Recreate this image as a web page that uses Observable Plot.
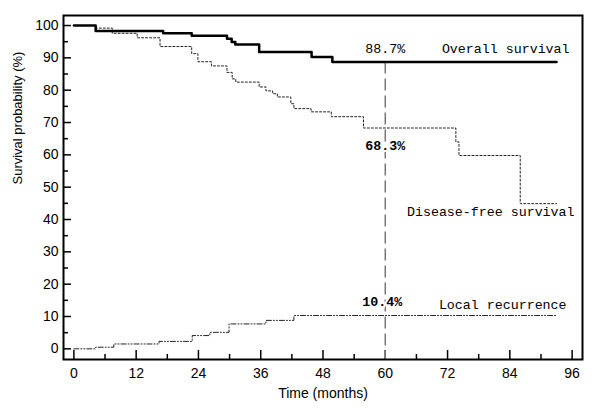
<!DOCTYPE html>
<html><head><meta charset="utf-8">
<script src="https://cdn.jsdelivr.net/npm/d3@7"></script>
<script src="https://cdn.jsdelivr.net/npm/@observablehq/plot@0.6"></script>
<style>body{margin:0;background:#fff}svg{display:block}</style>
</head><body><div id="chart"></div>
<script>
// Overall survival (step function)
const osTime = [0, 4.2, 17.2, 22.7, 29.5, 30.4, 31.1, 35.7, 45.8, 49.8, 93];
const osValue = [100, 98.3, 97.6, 96.8, 95.9, 94.9, 94.1, 91.8, 90.3, 88.7, 88.7];
// Disease-free survival
const dfsTime = [0, 4.2, 7.4, 12.2, 16.6, 22.7, 23.9, 26.5, 29.5, 30.5, 31.2, 35.7, 37.0, 38.3, 39.2, 41.8, 42.4, 45.7, 49.6, 55.8, 73.6, 74.2, 86.0, 93];
const dfsValue = [100, 99.2, 97.6, 96.2, 93.5, 91.3, 88.8, 87.5, 85.5, 83.5, 82.5, 81.0, 79.8, 78.9, 77.9, 75.8, 74.3, 73.3, 71.8, 68.3, 64.0, 59.8, 44.9, 44.9];
// Local recurrence
const lrTime = [0, 4.2, 7.7, 16.4, 22.8, 26.2, 29.9, 37.0, 42.4, 93];
const lrValue = [0, 0.5, 1.5, 2.3, 4.1, 5.1, 7.7, 8.8, 10.3, 10.3];

const seriesNames = ["Overall survival", "Disease-free survival", "Local recurrence"];
const markerMonth = 60;
const markerValues = [88.7, 68.3, 10.4];
const markerLabels = ["88.7%", "68.3%", "10.4%"];

const xTicks = [0, 12, 24, 36, 48, 60, 72, 84, 96];
const xMinor = [6, 18, 30, 42, 54, 66, 78, 90];
const yTicks = [0, 10, 20, 30, 40, 50, 60, 70, 80, 90, 100];
const yMinor = [5, 15, 25, 35, 45, 55, 65, 75, 85, 95];

const W = 611, H = 410;
const mL = 63, mR = 29, mT = 15, mB = 51;
const plotW = W - mL - mR, plotH = H - mT - mB;
const xDomain = [-2, 98], yDomain = [-3.3, 103.1];

const toRows = (ts, vs) => ts.map((t, i) => ({t, v: vs[i]}));
const os = toRows(osTime, osValue);
const dfs = toRows(dfsTime, dfsValue);
const lr = toRows(lrTime, lrValue);

const sans = "Liberation Sans, Arial, sans-serif";
const mono = "Liberation Mono, Courier New, monospace";

const lastT = osTime[osTime.length - 1];

const chart = Plot.plot({
  width: W, height: H,
  marginLeft: mL, marginRight: mR, marginTop: mT, marginBottom: mB,
  style: {background: "#fff", color: "#000"},
  x: {domain: xDomain},
  y: {domain: yDomain},
  marks: [
    Plot.axisX(xTicks, {tickSize: 0, tickPadding: 9, fontSize: 14, fontFamily: sans, label: null}),
    Plot.axisY(yTicks, {tickSize: 0, tickPadding: 5, fontSize: 14, fontFamily: sans, label: null}),
    Plot.tickX(xTicks, {x: d => d, insetTop: plotH - 9, stroke: "#000", strokeWidth: 1.5}),
    Plot.tickX(xMinor, {x: d => d, insetTop: plotH - 5, stroke: "#000", strokeWidth: 1.5}),
    Plot.tickY(yTicks, {y: d => d, insetRight: plotW - 8, stroke: "#000", strokeWidth: 1.5}),
    Plot.tickY(yMinor, {y: d => d, insetRight: plotW - 5, stroke: "#000", strokeWidth: 1.5}),
    Plot.ruleX([markerMonth], {y1: markerValues[0], y2: yDomain[0], stroke: "#777", strokeWidth: 1.5, strokeDasharray: "12,5"}),
    Plot.line(lr, {x: "t", y: "v", curve: "step-after", stroke: "#222", strokeWidth: 1, strokeDasharray: "5,2,1,2,1,2"}),
    Plot.line(dfs, {x: "t", y: "v", curve: "step-after", stroke: "#222", strokeWidth: 1, strokeDasharray: "2,2"}),
    Plot.line(os, {x: "t", y: "v", curve: "step-after", stroke: "#000", strokeWidth: 2.5}),
    Plot.frame({stroke: "#000", strokeWidth: 2}),
    // marker labels
    Plot.text([0], {x: markerMonth, y: markerValues[0], text: () => markerLabels[0], lineAnchor: "bottom", dy: -9, fontFamily: mono, fontSize: 13.3, fill: "#000"}),
    Plot.text([1], {x: markerMonth, y: markerValues[1], text: () => markerLabels[1], lineAnchor: "bottom", dy: 22, fontFamily: mono, fontSize: 13.3, fontWeight: "bold", fill: "#000", stroke: "#fff", strokeWidth: 4}),
    Plot.text([2], {x: markerMonth, y: markerValues[2], text: () => markerLabels[2], lineAnchor: "bottom", dx: -3, dy: -9, fontFamily: mono, fontSize: 13.3, fontWeight: "bold", fill: "#000", stroke: "#fff", strokeWidth: 4}),
    // series labels
    Plot.text([0], {x: lastT, y: osValue[osValue.length - 1], text: () => seriesNames[0], textAnchor: "end", lineAnchor: "bottom", dx: 13, dy: -9, fontFamily: mono, fontSize: 13.3, fill: "#000"}),
    Plot.text([1], {x: lastT, y: dfsValue[dfsValue.length - 1], text: () => seriesNames[1], textAnchor: "end", lineAnchor: "bottom", dx: 18, dy: 12, fontFamily: mono, fontSize: 13.3, fill: "#000"}),
    Plot.text([2], {x: lastT, y: lrValue[lrValue.length - 1], text: () => seriesNames[2], textAnchor: "end", lineAnchor: "bottom", dx: 10, dy: -7, fontFamily: mono, fontSize: 13.3, fill: "#000"}),
    // axis titles
    Plot.text(["Time (months)"], {frameAnchor: "bottom", text: d => d, lineAnchor: "bottom", dy: 38, fontFamily: sans, fontSize: 14, fill: "#000"}),
    Plot.text(["Survival probability (%)"], {frameAnchor: "left", text: d => d, rotate: -90, lineAnchor: "middle", dx: -45.5, dy: -3, fontFamily: sans, fontSize: 13, fill: "#000"})
  ]
});
document.getElementById("chart").appendChild(chart);
</script>
</body></html>
